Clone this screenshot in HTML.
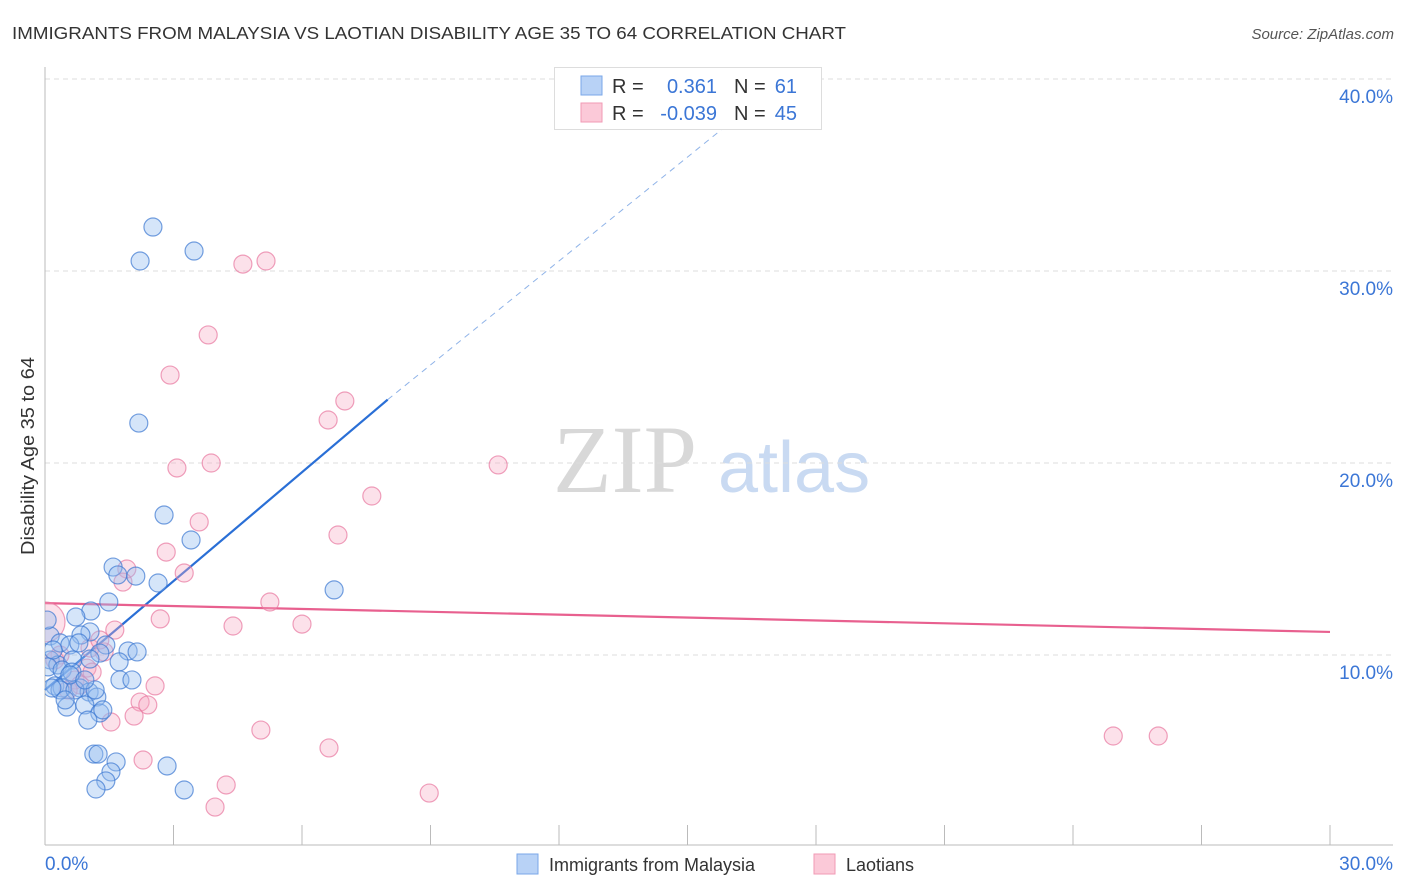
<!DOCTYPE html>
<html><head><meta charset="utf-8"><style>
body{margin:0;background:#fff;font-family:"Liberation Sans",sans-serif;}
svg{display:block}
</style></head><body>
<svg id="chart" width="1406" height="892">
<defs><clipPath id="plotclip"><rect x="45" y="60" width="1360" height="786"/></clipPath></defs>
<text x="12" y="39" font-size="17.5" fill="#333" textLength="834" lengthAdjust="spacingAndGlyphs">IMMIGRANTS FROM MALAYSIA VS LAOTIAN DISABILITY AGE 35 TO 64 CORRELATION CHART</text>
<text x="1394" y="39" font-size="15" fill="#555" font-style="italic" text-anchor="end">Source: ZipAtlas.com</text>
<text transform="translate(34,456) rotate(-90)" font-size="18" fill="#333" text-anchor="middle" textLength="198" lengthAdjust="spacingAndGlyphs">Disability Age 35 to 64</text>
<g>
<text x="553" y="492" font-family="Liberation Serif,serif" font-size="96" fill="#d8d8d8">ZIP</text>
<text x="718" y="492" font-size="72" fill="#c9daf2">atlas</text>
</g>
<g id="grid"></g><g id="axes"></g><g id="lines"></g><g id="pts" clip-path="url(#plotclip)"></g>
<g>
<rect x="554.5" y="67.5" width="267" height="62" fill="#fff" stroke="#ddd"/>
<rect x="581" y="76" width="21" height="19" fill="#b8d2f6" stroke="#7aa7e8"/>
<rect x="581" y="103" width="21" height="19" fill="#fbc9d8" stroke="#f09ab5"/>
<text x="612" y="93" font-size="20" fill="#333">R = </text><text x="717" y="93" font-size="20" fill="#3b76d6" text-anchor="end">0.361</text>
<text x="734" y="93" font-size="20" fill="#333">N = </text><text x="797" y="93" font-size="20" fill="#3b76d6" text-anchor="end">61</text>
<text x="612" y="120" font-size="20" fill="#333">R = </text><text x="717" y="120" font-size="20" fill="#3b76d6" text-anchor="end">-0.039</text>
<text x="734" y="120" font-size="20" fill="#333">N = </text><text x="797" y="120" font-size="20" fill="#3b76d6" text-anchor="end">45</text>
</g>
<g>
<rect x="517" y="854" width="21" height="20" fill="#b8d2f6" stroke="#7aa7e8"/>
<text x="549" y="871" font-size="18" fill="#333">Immigrants from Malaysia</text>
<rect x="814" y="854" width="21" height="20" fill="#fbc9d8" stroke="#f09ab5"/>
<text x="846" y="871" font-size="18" fill="#333">Laotians</text>
</g>
</svg>
<script>
const yTicks=[10,20,30,40];
const yTickLabels=["10.0%","20.0%","30.0%","40.0%"];
const xTickLabels=["0.0%","30.0%"];
const blueX=[2.52,2.22,3.48,2.19,2.78,3.41,1.59,2.12,1.70,2.64,6.75,1.49,1.07,0.72,1.05,0.84,0.12,0.35,0.58,0.79,1.42,1.94,2.15,1.28,0.12,0.30,0.65,1.05,1.73,0.07,0.40,0.63,0.23,0.40,0.82,1.03,1.21,1.75,2.03,0.51,0.93,1.28,1.00,1.35,1.14,1.24,1.66,1.54,1.42,1.19,2.85,3.25,0.35,0.70,0.16,1.17,0.58,0.93,0.05,0.19,0.47];
const blueY=[32.29,30.52,31.04,22.08,17.29,15.99,14.58,14.11,14.17,13.75,13.39,12.76,12.29,11.98,11.20,11.04,10.99,10.63,10.52,10.63,10.52,10.21,10.16,10.10,9.74,9.48,9.74,9.79,9.64,9.38,9.22,9.11,8.39,8.28,8.28,8.07,7.81,8.70,8.70,7.29,7.40,6.98,6.61,7.14,4.84,4.84,4.43,3.91,3.44,3.02,4.22,2.97,8.18,8.18,8.28,8.18,8.96,8.70,11.82,10.26,7.66];
const pinkX=[4.62,5.16,3.81,2.92,7.00,6.61,3.08,3.88,10.58,7.63,3.60,6.84,2.83,1.91,3.25,1.82,5.25,2.69,6.00,4.39,1.63,1.38,0.00,0.98,1.10,0.70,0.82,2.57,2.22,2.40,2.08,1.54,5.04,6.63,2.29,4.23,3.97,8.97,24.94,25.99,0.35,1.05,0.23,0.54,1.28];
const pinkY=[30.36,30.52,26.67,24.58,23.23,22.24,19.74,20.00,19.90,18.28,16.93,16.25,15.36,14.48,14.27,13.80,12.76,11.88,11.61,11.51,11.30,10.16,11.72,9.32,9.11,8.70,8.44,8.39,7.55,7.40,6.82,6.51,6.09,5.16,4.53,3.23,2.08,2.81,5.78,5.78,10.00,10.36,9.74,8.18,10.78];
const blueTrend=[8.18,23.3,38.1];
const blueTrendX=[0,8,16.2];
const pinkTrend=[12.7,11.2];
const pinkTrendX=[0,30];

const NS="http://www.w3.org/2000/svg";
const X=v=>45+v*1285/30, Y=v=>847-v*19.2;
function mk(tag,parent,attrs){const e=document.createElementNS(NS,tag);for(const k in attrs)e.setAttribute(k,attrs[k]);document.getElementById(parent).appendChild(e);return e;}
yTicks.forEach((t,i)=>{
 const g=mk('line','grid',{x1:45,x2:1393,y1:Y(t),y2:Y(t),stroke:'#ddd','stroke-dasharray':'5,4'});
 
 
 const l=mk('text','grid',{x:1393,y:Y(t)+24,'font-size':19,fill:'#3b76d6','text-anchor':'end'});
 l.textContent=yTickLabels[i];
 
 
});
const ya=mk('line','axes',{x1:45,x2:45,y1:67,y2:845,stroke:'#bbb'});


const xa=mk('line','axes',{x1:45,x2:1393,y1:845,y2:845,stroke:'#bbb'});


for(let i=0;i<=10;i++){const t=mk('line','axes',{x1:X(i*3),x2:X(i*3),y1:825,y2:845,stroke:'#bbb'});
 
 }
[[0,'start',45],[30,'end',1393]].forEach((d,i)=>{const l=mk('text','axes',{x:d[2],y:870,'font-size':19,fill:'#3b76d6','text-anchor':d[1]});l.textContent=xTickLabels[i];
 
 });
function dot(x,y,r,fill,stroke,name){const c=mk('circle','pts',{cx:X(x),cy:Y(y),r:r,fill:fill,stroke:stroke,'stroke-width':1.2});
 
 }
pinkX.forEach((x,i)=>dot(x,pinkY[i],i===22?20:9,'rgba(247,170,195,0.35)','rgba(232,120,160,0.7)','laotians-point'));
blueX.forEach((x,i)=>dot(x,blueY[i],9,'rgba(150,190,240,0.4)','rgba(60,120,210,0.7)','malaysia-point'));
const bl=mk('line','lines',{x1:X(blueTrendX[0]),y1:Y(blueTrend[0]),x2:X(blueTrendX[1]),y2:Y(blueTrend[1]),stroke:'#2a6fd6','stroke-width':2.2});


const bd=mk('line','lines',{x1:X(blueTrendX[1]),y1:Y(blueTrend[1]),x2:X(blueTrendX[2]),y2:Y(blueTrend[2]),stroke:'#8fb3e8','stroke-width':1,'stroke-dasharray':'6,5'});


const pl=mk('line','lines',{x1:X(pinkTrendX[0]),y1:Y(pinkTrend[0]),x2:X(pinkTrendX[1]),y2:Y(pinkTrend[1]),stroke:'#e8608f','stroke-width':2.2});


</script>
</body></html>
